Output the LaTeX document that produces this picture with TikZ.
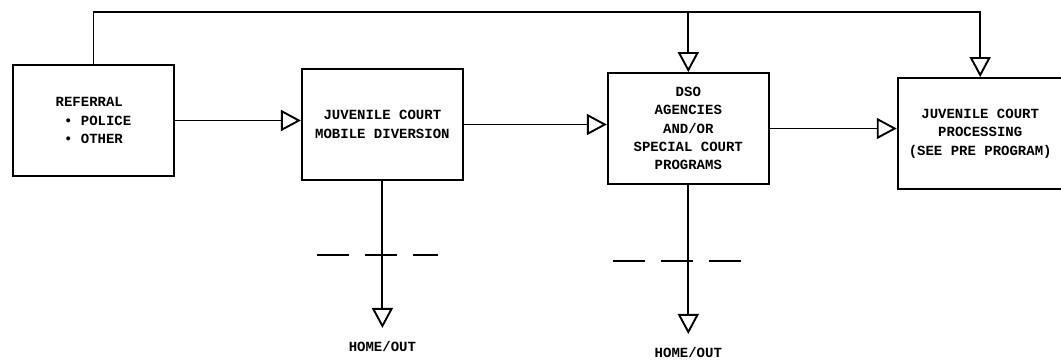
\documentclass[tikz,border=0pt]{standalone}
\usepackage{fontspec}
\setmonofont{Liberation Mono}
\usetikzlibrary{positioning, arrows.meta}

\begin{document}
\begin{tikzpicture}[x=1pt,y=-1pt,line width=1.9pt,
    -{Triangle[open,length=20pt,width=21pt]},
    box/.style={draw,-,minimum width=161pt,minimum height=111pt,inner sep=0pt,
      align=center,font=\ttfamily\bfseries\fontsize{14}{18.3}\selectfont},
    outlbl/.style={anchor=north,inner xsep=0pt,inner ysep=14pt,text height=9pt,
      text depth=0pt,font=\ttfamily\bfseries\fontsize{14}{18.3}\selectfont},
    cutline/.style={-,dash pattern=on 32pt off 16pt}]
  \useasboundingbox (0,0) rectangle (1061,362);
  \node[box,align=left] (ref) at (93.5,120.5) {REFERRAL\\\ \textbullet\ POLICE\\\ \textbullet\ OTHER};
  \node[box,right=126pt of ref,yshift=-4pt] (jcmd) {JUVENILE COURT\\MOBILE DIVERSION};
  \node[box,right=143pt of jcmd,yshift=-4pt] (dso) {DSO\\AGENCIES\\AND/OR\\SPECIAL COURT\\PROGRAMS};
  \node[box,right=127pt of dso,yshift=-5pt,minimum width=165pt] (jcp) {JUVENILE COURT\\PROCESSING\\(SEE PRE PROGRAM)};
  \node[outlbl,below=147pt of jcmd.south] (home1) {HOME/OUT};
  \node[outlbl,below=149pt of dso.south] (home2) {HOME/OUT};
  \coordinate[above=52pt of ref.north] (top);
  % main flow
  \draw (ref.east) -- (ref.east -| jcmd.west);
  \draw (jcmd.east) -- (jcmd.east -| dso.west);
  \draw (dso.east) -- (dso.east -| jcp.west);
  % feedback along the top
  \draw (ref.north) -- (top) -| (jcp.north);
  \draw (top -| dso.north) -- (dso.north);
  % exits
  \draw (jcmd.south) -- (home1.north);
  \draw (dso.south) -- (home2.north);
  \draw[cutline] (317,255) -- (438,255);
  \draw[cutline] (613,261) -- (752,261);
\end{tikzpicture}
\end{document}
